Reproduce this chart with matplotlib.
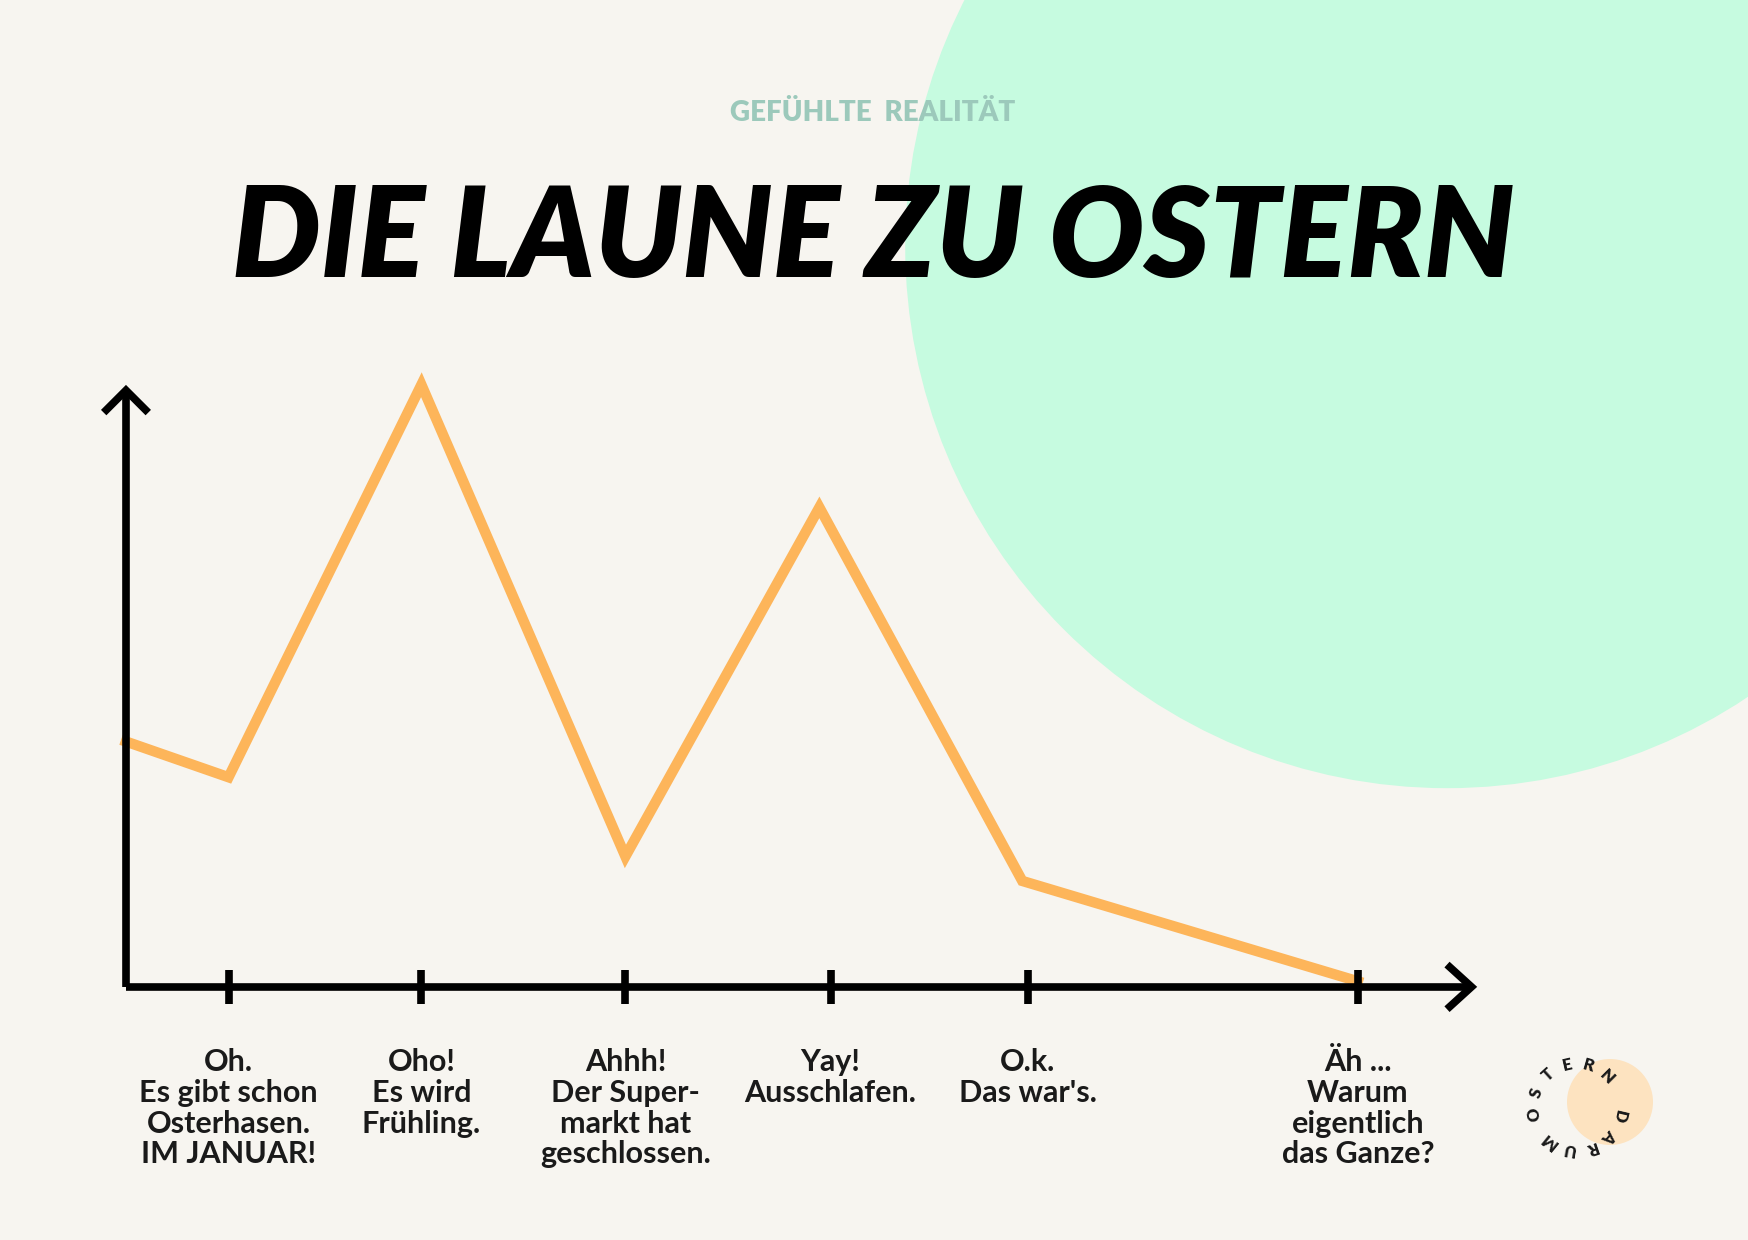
import numpy as np
import matplotlib.pyplot as plt
from matplotlib.patches import Circle

plt.rcParams['font.family'] = ['Lato', 'DejaVu Sans']

stages = ["Oh.\nEs gibt schon\nOsterhasen.\nIM JANUAR!",
          "Oho!\nEs wird\nFrühling.",
          "Ahhh!\nDer Super-\nmarkt hat\ngeschlossen.",
          "Yay!\nAusschlafen.",
          "O.k.\nDas war's.",
          "Äh ...\nWarum\neigentlich\ndas Ganze?"]
tick_x = [0.92, 2.65, 4.48, 6.32, 8.09, 11.05]
line_x = [0, 0.92, 2.65, 4.48, 6.22, 8.04, 11.05]
mood = [2.2, 1.88, 5.4, 1.17, 4.3, 0.95, 0.05]

W, H = 1748, 1240
fig = plt.figure(figsize=(W / 100, H / 100), dpi=100)
fig.patch.set_facecolor('#F7F5F0')

# background decorations in pixel coords (reference 1568x1112 scaled)
s = W / 1568
bg = fig.add_axes([0, 0, 1, 1])
bg.set_xlim(0, W); bg.set_ylim(H, 0); bg.axis('off')
bg.add_patch(Circle((1298 * s, 221 * s), 486 * s, color='#C6FBE0', lw=0))
bg.text(783 * s, 101 * s, "GEFÜHLTE  REALITÄT", ha='center', va='center',
        fontsize=20, fontweight='heavy', color='#9CC9BB')
bg.text(783 * s, 216 * s, "DIE LAUNE ZU OSTERN", ha='center', va='center',
        fontsize=90, fontweight='heavy', style='italic', color='black')

# logo
bg.add_patch(Circle((1610, 1102), 43, color='#FDE3C0', lw=0))
cx, cy, r = 1577, 1107, 43
for i, ch in enumerate("OSTERN DARUM"):
    a = np.deg2rad(190 - i * 29)
    bg.text(cx + r * np.cos(a), cy - r * np.sin(a), ch, ha='center', va='center',
            rotation=np.rad2deg(a) - 90, fontsize=12, fontweight='heavy', color='#1a1a1a')

# chart
ax = fig.add_axes([113 / 1568, 1 - 885 / 1112, (1320 - 113) / 1568, (885 - 350) / 1112])
ax.set_facecolor('none')
ax.set_xlim(0, 12.07); ax.set_ylim(0, 5.35)
ax.axis('off')
ax.plot(line_x, mood, color='#FDB55A', lw=7.5, solid_joinstyle='miter', clip_on=False, zorder=2)
k = dict(color='black', lw=5.5, clip_on=False, zorder=3, solid_capstyle='butt')
ax.plot([0, 12.07], [0, 0], **k)
ax.plot([0, 0], [0, 5.35], **k)
ax.plot([11.85, 12.07, 11.85], [0.2, 0, -0.2], solid_joinstyle='miter', **k)
ax.plot([-0.2, 0, 0.2], [5.15, 5.35, 5.15], solid_joinstyle='miter', **k)
for x in tick_x:
    ax.plot([x, x], [-0.15, 0.15], **k)
for x, lab in zip(tick_x, stages):
    ax.text(x, -0.55, lab, ha='center', va='top', fontsize=22,
            fontweight='bold', color='#1a1a1a', linespacing=1.12)

fig.savefig('out.png', dpi=100, facecolor=fig.get_facecolor())
